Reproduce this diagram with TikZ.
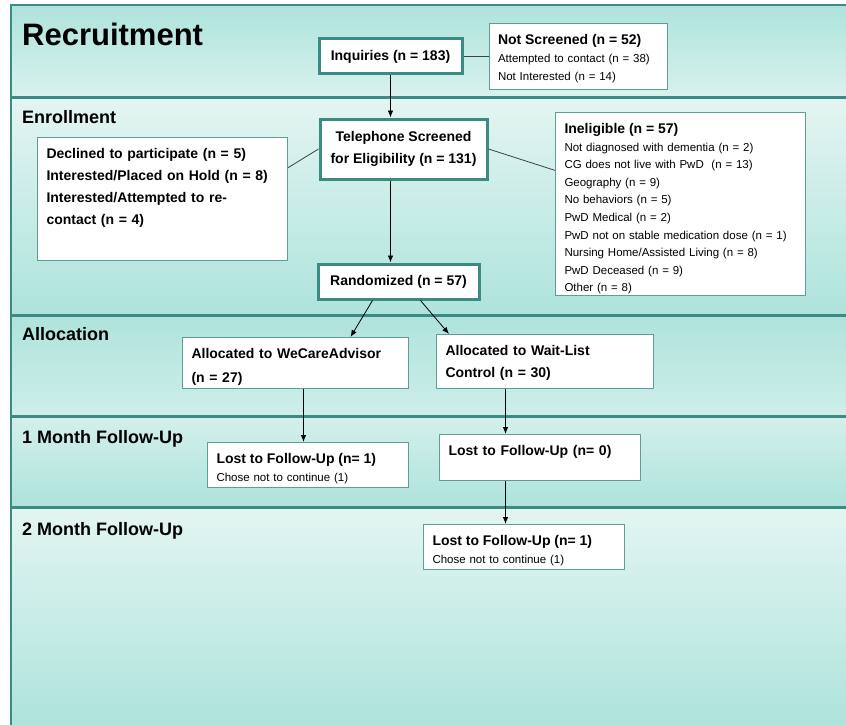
\documentclass[tikz,border=0pt]{standalone}
\usepackage{fontspec}
\setmainfont{Liberation Sans}
\usetikzlibrary{positioning, arrows.meta}

\definecolor{tealline}{HTML}{3C8A84}
\definecolor{boxline}{HTML}{5E9E99}
\definecolor{bandlight}{HTML}{E4F5F2}
\definecolor{banddark}{HTML}{AEE3DC}

\newcommand{\boxhead}[1]{{\bfseries\fontsize{14}{17.6}\selectfont #1}}

\begin{document}
\begin{tikzpicture}[
		x=1pt, y=-1pt, >={Latex[length=7pt, width=5.5pt]},
		% Define styles
		band/.style={anchor=base west, inner sep=0pt, font=\bfseries\fontsize{18}{22}\selectfont},
		divider/.style={draw=tealline, line width=3pt},
		base/.style={rectangle, fill=white, draw=boxline, line width=1pt},
		key/.style={base, draw=tealline, line width=3pt, align=center, inner sep=0pt, font=\bfseries\fontsize{14}{22}\selectfont},
		side/.style={base, anchor=north west, align=left, inner xsep=9pt, inner ysep=10pt, text height=11pt, font=\bfseries\fontsize{14}{22}\selectfont},
		note/.style={side, font=\fontsize{11.5}{17.6}\selectfont},
		flow/.style={->, line width=0.8pt},
		link/.style={draw=black!75, line width=0.8pt}
		]
		
		\useasboundingbox (0,0) rectangle (846,725);
		\fill[white] (0,0) rectangle (846,725);
		
		% 1. Bands
		\shade[top color=banddark, bottom color=bandlight!80!banddark] (11,5) rectangle (846,97);
		\shade[top color=bandlight, bottom color=banddark] (11,97) rectangle (846,315);
		\shade[top color=banddark, bottom color=bandlight!60!banddark] (11,315) rectangle (846,416);
		\shade[top color=bandlight!70!banddark, bottom color=banddark] (11,416) rectangle (846,507);
		\shade[top color=bandlight, bottom color=banddark] (11,507) rectangle (846,725);
		
		\draw[tealline, line width=1.5pt] (846,5) -- (11,5) -- (11,725);
		\draw[divider] (11,97) -- (846,97);
		\draw[divider] (11,315) -- (846,315);
		\draw[divider] (11,416) -- (846,416);
		\draw[divider] (11,507) -- (846,507);
		
		\node[band, font=\bfseries\fontsize{31}{36}\selectfont] (recruit) at (22,46) {Recruitment};
		\node[band] (enroll) at (22,123) {Enrollment};
		\node[band] (alloc) at (22,340) {Allocation};
		\node[band] (month1) at (22,443) {1 Month Follow-Up};
		\node[band] (month2) at (22,535) {2 Month Follow-Up};
		
		% 2. Recruitment
		\node[key, minimum width=143pt, minimum height=35pt] (inq) at (390.5,56.5) {Inquiries (n = 183)};
		\node[note, right=25pt of inq, text width=160pt, text depth=34pt] (notscr) {\boxhead{Not Screened (n = 52)}\\
			Attempted to contact (n = 38)\\
			Not Interested (n = 14)};
		
		% 3. Enrollment
		\node[key, minimum width=167pt, minimum height=60pt] (tel) at (403.5,149) {Telephone Screened\\for Eligibility (n = 131)};
		\node[side, text width=232pt, text depth=92pt] (declined) at (37,137) {Declined to participate (n = 5)\\
			Interested/Placed on Hold (n = 8)\\
			Interested/Attempted to re-\\
			contact (n = 4)};
		\node[note, text width=232pt, text depth=152pt] (inel) at (555,112) {\boxhead{Ineligible (n = 57)}\\
			Not diagnosed with dementia (n = 2)\\
			CG does not live with PwD\ \ (n = 13)\\
			Geography (n = 9)\\
			No behaviors (n = 5)\\
			PwD Medical (n = 2)\\
			PwD not on stable medication dose (n = 1)\\
			Nursing Home/Assisted Living (n = 8)\\
			PwD Deceased (n = 9)\\
			Other (n = 8)};
		\node[key, minimum width=161pt, minimum height=35pt] (rand) at (398.5,281.5) {Randomized (n = 57)};
		
		% 4. Allocation
		\node[side, text width=208pt, text depth=20pt, font=\bfseries\fontsize{14}{24}\selectfont] (wecare) at (182,337) {Allocated to WeCareAdvisor\\(n = 27)};
		\node[side, text width=199pt, text depth=23pt] (wait) at (436,334) {Allocated to Wait-List\\Control (n = 30)};
		
		% 5. Follow-ups
		\node[note, text width=183pt, text depth=14pt] (lost1) at (207,442) {\boxhead{Lost to Follow-Up (n= 1)}\\
			Chose not to continue (1)};
		\node[side, text width=183pt, text depth=15pt] (lost0) at (439,434) {Lost to Follow-Up (n= 0)};
		\node[note, text width=183pt, text depth=14pt] (lost2) at (423,524) {\boxhead{Lost to Follow-Up (n= 1)}\\
			Chose not to continue (1)};
		
		% Connections
		\draw[flow] (inq.south) -- (inq.south |- tel.north);
		\draw[link] (inq) -- (notscr);
		\draw[link] (declined.14) -- (tel.west);
		\draw[link] (tel.east) -- (inel.165);
		\draw[flow] (tel.south -| inq.south) -- (rand.north -| inq.south);
		\draw[flow] ([xshift=-26pt]rand.south) -- ([xshift=55pt]wecare.north);
		\draw[flow] ([xshift=22pt]rand.south) -- ([xshift=-96pt]wait.north);
		\draw[flow] ([xshift=8pt]wecare.south) -- ([xshift=8pt]wecare.south |- lost1.north);
		\draw[flow] ([xshift=-39.5pt]wait.south) -- ([xshift=-39.5pt]wait.south |- lost0.north);
		\draw[flow] ([xshift=-34.5pt]lost0.south) -- ([xshift=-34.5pt]lost0.south |- lost2.north);
		
	\end{tikzpicture}
\end{document}
